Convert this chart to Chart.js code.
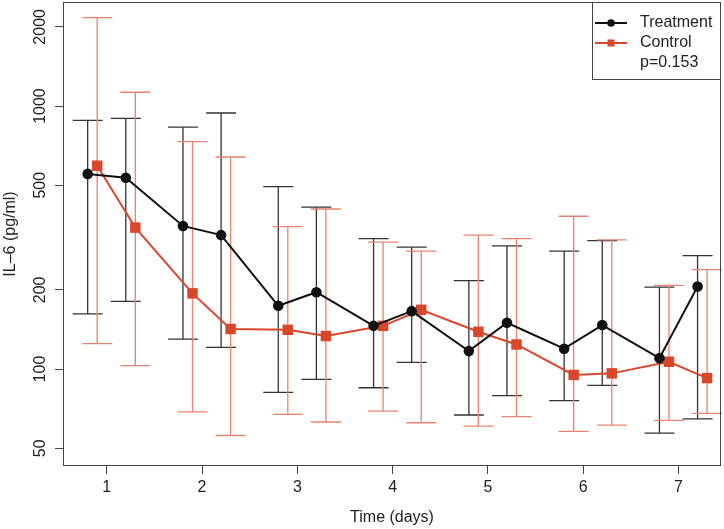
<!DOCTYPE html>
<html>
<head>
<meta charset="utf-8">
<script src="https://cdn.jsdelivr.net/npm/chart.js@4.4.1/dist/chart.umd.min.js"></script>
<style>
  html, body { margin: 0; padding: 0; background: #fff; }
  #wrap { width: 724px; height: 529px; }
</style>
</head>
<body>
<div id="wrap"><canvas id="chart" width="724" height="529"></canvas></div>
<script>
/* =========================
   Data
========================= */

const treatmentDays = [0.8, 1.2, 1.8, 2.2, 2.8, 3.2, 3.8, 4.2, 4.8, 5.2, 5.8, 6.2, 6.8, 7.2];
const controlDays   = [0.9, 1.3, 1.9, 2.3, 2.9, 3.3, 3.9, 4.3, 4.9, 5.3, 5.9, 6.3, 6.9, 7.3];

const treatmentMean = [552, 534, 350, 323, 174, 196, 146, 166, 117, 150, 119.5, 147, 110, 206];
const treatmentLow  = [162, 181, 130, 121, 81.5, 91.4, 84.9, 106, 66.9, 79.2, 75.8, 86.7, 57.1, 64.7];
const treatmentHigh = [882, 898, 832, 941, 494, 413, 313, 291, 217, 294, 281, 308, 205, 270];

const controlMean = [593, 345, 194, 142, 141, 133.5, 146, 168, 138.6, 124, 95, 96.3, 106.6, 92.4];
const controlLow  = [125, 103, 68.8, 55.9, 67.2, 62.9, 69.2, 62.5, 60.7, 65.9, 58, 61.2, 63.8, 67.8];
const controlHigh = [2167, 1128, 732, 640, 348, 406, 304, 281, 323, 313, 381, 310, 208, 239];

const xTicks = [1, 2, 3, 4, 5, 6, 7];
const yTicks = [50, 100, 200, 500, 1000, 2000];

const seriesNames = ["Treatment", "Control"];
const pValueText = "p=0.153";

/* =========================
   Styles
========================= */

const FONT = "'Liberation Sans', Arial, Helvetica, sans-serif";
const TEXT = "#222";
const AXIS = "#444";
const BLACK = "#111";
const RED = "#d9472b";
const RED_BAR = "#e8836f";

function toPoints(xs, ys) {
  return xs.map((x, i) => ({ x: x, y: ys[i] }));
}

/* =========================
   Error bars + box + legend
========================= */

const errorBars = {
  id: "errorBars",
  beforeDatasetsDraw(chart) {
    const ctx = chart.ctx;
    const xs = chart.scales.x;
    const ys = chart.scales.y;
    const sets = [
      { days: treatmentDays, lo: treatmentLow, hi: treatmentHigh, color: "#333", width: 1.3 },
      { days: controlDays, lo: controlLow, hi: controlHigh, color: RED_BAR, width: 1.3 }
    ];
    const cap = 15;
    ctx.save();
    sets.forEach(s => {
      ctx.strokeStyle = s.color;
      ctx.lineWidth = s.width;
      s.days.forEach((d, i) => {
        const px = xs.getPixelForValue(d);
        const yl = ys.getPixelForValue(s.lo[i]);
        const yh = ys.getPixelForValue(s.hi[i]);
        ctx.beginPath();
        ctx.moveTo(px, yl); ctx.lineTo(px, yh);
        ctx.moveTo(px - cap, yl); ctx.lineTo(px + cap, yl);
        ctx.moveTo(px - cap, yh); ctx.lineTo(px + cap, yh);
        ctx.stroke();
      });
    });
    ctx.restore();
  },
  afterDraw(chart) {
    const ctx = chart.ctx;
    const a = chart.chartArea;
    ctx.save();
    // plot box
    ctx.strokeStyle = AXIS;
    ctx.lineWidth = 1;
    ctx.strokeRect(a.left + 0.5, a.top + 0.5, a.right - a.left - 1, a.bottom - a.top - 1);

    // legend box, top right
    const bx = 592, by = a.top, bw = a.right - 592, bh = 78;
    ctx.fillStyle = "#fff";
    ctx.fillRect(bx, by, bw, bh);
    ctx.strokeRect(bx + 0.5, by + 0.5, bw - 1, bh - 1);

    ctx.font = "16px " + FONT;
    ctx.textBaseline = "middle";
    ctx.textAlign = "left";
    const rows = [by + 21, by + 41, by + 61];
    const colors = [BLACK, RED];
    seriesNames.forEach((name, i) => {
      ctx.strokeStyle = colors[i];
      ctx.lineWidth = 2;
      ctx.beginPath();
      ctx.moveTo(595, rows[i]); ctx.lineTo(627, rows[i]);
      ctx.stroke();
      ctx.fillStyle = colors[i];
      ctx.beginPath();
      if (i === 0) ctx.arc(611, rows[i], 3.8, 0, Math.PI * 2);
      else ctx.rect(607.5, rows[i] - 3.5, 7, 7);
      ctx.fill();
      ctx.fillStyle = TEXT;
      ctx.fillText(name, 640, rows[i]);
    });
    ctx.fillStyle = TEXT;
    ctx.fillText(pValueText, 640, rows[2]);
    ctx.restore();
  }
};

/* =========================
   Chart
========================= */

new Chart(document.getElementById("chart"), {
  type: "scatter",
  data: {
    datasets: [
      {
        label: seriesNames[0],
        data: toPoints(treatmentDays, treatmentMean),
        showLine: true,
        borderColor: BLACK,
        backgroundColor: BLACK,
        borderWidth: 2,
        pointRadius: 5.3,
        pointBorderWidth: 0,
        pointStyle: "circle",
        tension: 0
      },
      {
        label: seriesNames[1],
        data: toPoints(controlDays, controlMean),
        showLine: true,
        borderColor: RED,
        backgroundColor: RED,
        borderWidth: 2,
        pointRadius: 7.4,
        pointBorderWidth: 0,
        pointStyle: "rect",
        tension: 0
      }
    ]
  },
  options: {
    responsive: false,
    animation: false,
    devicePixelRatio: 1,
    layout: { autoPadding: false, padding: { top: 2, right: 3, left: 0, bottom: 0 } },
    plugins: {
      legend: { display: false },
      tooltip: { enabled: false }
    },
    scales: {
      x: {
        type: "linear",
        min: 0.541,
        max: 7.446,
        afterBuildTicks: s => { s.ticks = xTicks.map(v => ({ value: v })); },
        afterFit: s => { s.height = 63; s.paddingLeft = 0; s.paddingRight = 0; },
        border: { display: false },
        grid: { drawOnChartArea: false, drawTicks: true, tickLength: 8, color: AXIS, lineWidth: 1 },
        ticks: { color: TEXT, font: { family: FONT, size: 16 }, padding: 4, maxRotation: 0 },
        title: {
          display: true,
          text: "Time (days)",
          color: TEXT,
          font: { family: FONT, size: 16 },
          padding: { top: 0, bottom: 2 }
        }
      },
      y: {
        type: "logarithmic",
        min: 42.8,
        max: 2486,
        afterBuildTicks: s => { s.ticks = yTicks.map(v => ({ value: v })); },
        afterFit: s => { s.width = 63; s.paddingTop = 0; s.paddingBottom = 0; },
        border: { display: false },
        grid: { drawOnChartArea: false, drawTicks: true, tickLength: 8, color: AXIS, lineWidth: 1 },
        ticks: {
          color: TEXT,
          font: { family: FONT, size: 16 },
          minRotation: 90,
          maxRotation: 90,
          crossAlign: "center",
          padding: -3,
          callback: v => String(v)
        },
        title: {
          display: true,
          text: "IL\u20136 (pg/ml)",
          color: TEXT,
          font: { family: FONT, size: 16 },
          padding: { top: 1, bottom: 0 }
        }
      }
    }
  },
  plugins: [errorBars]
});
</script>
</body>
</html>
